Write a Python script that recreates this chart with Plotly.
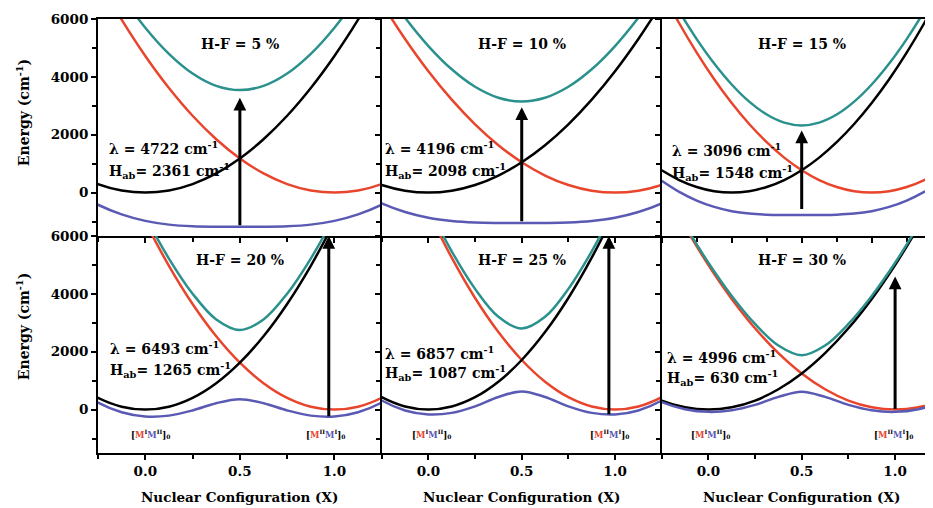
import plotly.graph_objects as go
from plotly.subplots import make_subplots

# ---------------- data ----------------
X = [-0.5, -0.375, -0.25, -0.125, 0.0, 0.125, 0.25, 0.375, 0.5, 0.625, 0.75,
     0.875, 1.0, 1.125, 1.25, 1.375, 1.5]

HF_LABELS = ["H-F = 5 %", "H-F = 10 %", "H-F = 15 %", "H-F = 20 %", "H-F = 25 %", "H-F = 30 %"]
LAMBDA = [4722, 4196, 3096, 6493, 6857, 4996]
HAB = [2361, 2098, 1548, 1265, 1087, 630]

# diabatic state A (black), diabatic state B (red), lower adiabatic (blue), upper adiabatic (teal)
B1 = [1181, 664, 295, 74, 0, 74, 295, 664, 1181, 1845, 2656, 3615, 4722, 5976, 7378, 8928, 10625]
R1 = [10625, 8928, 7378, 5976, 4722, 3615, 2656, 1845, 1181, 664, 295, 74, 0, 74, 295, 664, 1181]
L1 = [623, 37, -420, -754, -978, -1107, -1164, -1179, -1181, -1179, -1164, -1107, -978, -754, -420, 37, 623]
U1 = [11182, 9555, 8093, 6805, 5700, 4796, 4115, 3688, 3542, 3688, 4115, 4796, 5700, 6805, 8093, 9555, 11182]

B2 = [1049, 590, 262, 66, 0, 66, 262, 590, 1049, 1639, 2360, 3213, 4196, 5311, 6556, 7933, 9441]
R2 = [9441, 7933, 6556, 5311, 4196, 3213, 2360, 1639, 1049, 590, 262, 66, 0, 66, 262, 590, 1049]
L2 = [554, 33, -373, -670, -869, -983, -1034, -1048, -1049, -1048, -1034, -983, -869, -670, -373, 33, 554]
U2 = [9936, 8490, 7192, 6047, 5065, 4262, 3657, 3277, 3147, 3277, 3657, 4262, 5065, 6047, 7192, 8490, 9936]

B3 = [774, 435, 194, 48, 0, 48, 194, 435, 774, 1209, 1742, 2370, 3096, 3918, 4838, 5853, 6966]
R3 = [6966, 5853, 4838, 3918, 3096, 2370, 1742, 1209, 774, 435, 194, 48, 0, 48, 194, 435, 774]
L3 = [409, 24, -275, -495, -641, -726, -763, -773, -774, -773, -763, -726, -641, -495, -275, 24, 409]
U3 = [7331, 6265, 5306, 4461, 3737, 3144, 2698, 2418, 2322, 2418, 2698, 3144, 3737, 4461, 5306, 6265, 7331]

B4 = [1623, 913, 406, 101, 0, 101, 406, 913, 1623, 2536, 3652, 4971, 6493, 8218, 10145, 12276, 14609]
R4 = [14609, 12276, 10145, 8218, 6493, 4971, 3652, 2536, 1623, 913, 406, 101, 0, 101, 406, 913, 1623]
L4 = [1501, 774, 244, -91, -238, -208, -29, 222, 358, 222, -29, -208, -238, -91, 244, 774, 1501]
U4 = [14707, 12387, 10275, 8372, 6684, 5221, 4007, 3116, 2753, 3116, 4007, 5221, 6684, 8372, 10275, 12387, 14707]

B5 = [1714, 964, 429, 107, 0, 107, 429, 964, 1714, 2679, 3857, 5250, 6857, 8678, 10714, 12964, 15428]
R5 = [15428, 12964, 10714, 8678, 6857, 5250, 3857, 2679, 1714, 964, 429, 107, 0, 107, 429, 964, 1714]
L5 = [1629, 867, 315, -29, -168, -113, 113, 437, 627, 437, 113, -113, -168, -29, 315, 867, 1629]
U5 = [15514, 13062, 10828, 8814, 7025, 5470, 4173, 3206, 2801, 3206, 4173, 5470, 7025, 8814, 10828, 13062, 15514]

B6 = [1249, 703, 312, 78, 0, 78, 312, 703, 1249, 1952, 2810, 3825, 4996, 6323, 7806, 9446, 11241]
R6 = [11241, 9446, 7806, 6323, 4996, 3825, 2810, 1952, 1249, 703, 312, 78, 0, 78, 312, 703, 1249]
L6 = [1209, 657, 260, 15, -78, -25, 162, 440, 619, 440, 162, -25, -78, 15, 260, 657, 1209]
U6 = [11281, 9491, 7859, 6386, 5074, 3928, 2960, 2214, 1879, 2214, 2960, 3928, 5074, 6386, 7859, 9491, 11281]

# arrows: (x, tail energy, head energy)
ARROW_X = [0.5, 0.5, 0.5, 0.97, 0.967, 1.0]
ARROW_FROM = [-1180, -1040, -620, -280, -210, -30]
ARROW_TO = [3280, 2950, 2150, 6000, 6000, 4600]

# text positions
LAM_X = [-0.204, -0.243, -0.44, -0.198, -0.243, -0.232]
LAM_Y = [1525, 1525, 1456, 2114, 1941, 1802]
HAB_Y = [762, 760, 693, 1352, 1282, 1109]
HF_Y = [5130, 5130, 5130, 5165, 5165, 5165]
STATE_LEFT_X = [0.03, 0.014, 0.014]
STATE_RIGHT_X = [0.955, 0.97, 0.99]
STATE_Y = -830

X_RANGES = [[-0.25, 1.25], [-0.25, 1.25], [-0.5, 1.438],
            [-0.25, 1.25], [-0.25, 1.25], [-0.25, 1.203]]
Y_RANGE = [-1500, 6000]

BLACKS = [B1, B2, B3, B4, B5, B6]
REDS = [R1, R2, R3, R4, R5, R6]
LOWS = [L1, L2, L3, L4, L5, L6]
UPS = [U1, U2, U3, U4, U5, U6]

# ---------------- styling ----------------
C_BLACK = "#000000"
C_RED = "#e8452c"
C_BLUE = "#5a5ab4"
C_TEAL = "#2a918d"
FONT = "DejaVu Serif"
LW = 2.5

fig = make_subplots(rows=2, cols=3, horizontal_spacing=0, vertical_spacing=0)

for i in range(6):
    r, c = i // 3 + 1, i % 3 + 1
    for ys, col in [(REDS[i], C_RED), (BLACKS[i], C_BLACK), (LOWS[i], C_BLUE), (UPS[i], C_TEAL)]:
        fig.add_trace(go.Scatter(x=X, y=ys, mode="lines",
                                 line=dict(color=col, width=LW, shape="spline", smoothing=1.0),
                                 showlegend=False, hoverinfo="skip"), row=r, col=c)

x_domains = [[0, 0.3398], [0.3398, 0.6751], [0.6751, 1.0]]
y_domains = [[0.5, 1.0], [0.0, 0.5]]

tickfont = dict(family=FONT, size=13.5, color="black", weight="bold")

for i in range(6):
    r, c = i // 3, i % 3
    n = "" if i == 0 else str(i + 1)
    fig.layout["xaxis" + n].update(
        domain=x_domains[c], range=X_RANGES[i], showgrid=False, zeroline=False,
        showline=True, mirror=(r == 0), linecolor="black", linewidth=2,
        ticks="outside", ticklen=5, tickwidth=2, tickcolor="black",
        tick0=0, dtick=0.5, tickformat=".1f",
        minor=dict(ticks="outside", ticklen=4, tickwidth=2, tickcolor="black", dtick=0.25, tick0=0),
        showticklabels=(r == 1), tickfont=tickfont,
    )
    fig.layout["yaxis" + n].update(
        domain=y_domains[r], range=Y_RANGE, showgrid=False, zeroline=False,
        showline=True, mirror=False, linecolor="black", linewidth=2,
        ticks="outside", ticklen=5, tickwidth=2, tickcolor="black",
        tick0=0, dtick=2000,
        minor=dict(ticks="outside", ticklen=4, tickwidth=2, tickcolor="black", dtick=1000, tick0=0),
        showticklabels=(c == 0), tickfont=tickfont,
    )

annfont = dict(family=FONT, size=14, color="black", weight="bold")
anns = []
for i in range(6):
    xr = "x" if i == 0 else "x" + str(i + 1)
    yr = "y" if i == 0 else "y" + str(i + 1)
    anns.append(dict(x=0.5, y=HF_Y[i], xref=xr, yref=yr, text=HF_LABELS[i],
                     showarrow=False, font=annfont, xanchor="center", yanchor="middle"))
    anns.append(dict(x=LAM_X[i], y=LAM_Y[i], xref=xr, yref=yr,
                     text="λ = %d cm<sup>-1</sup>" % LAMBDA[i],
                     showarrow=False, font=annfont, xanchor="left", yanchor="middle"))
    anns.append(dict(x=LAM_X[i], y=HAB_Y[i], xref=xr, yref=yr,
                     text="H<sub>ab</sub>= %d cm<sup>-1</sup>" % HAB[i],
                     showarrow=False, font=annfont, xanchor="left", yanchor="middle"))
    anns.append(dict(x=ARROW_X[i], y=ARROW_TO[i], ax=ARROW_X[i], ay=ARROW_FROM[i],
                     xref=xr, yref=yr, axref=xr, ayref=yr, text="",
                     showarrow=True, arrowhead=2, arrowsize=0.85, arrowwidth=3,
                     arrowcolor="black", standoff=0, startstandoff=0))

small = dict(family=FONT, size=8.5, color="black", weight="bold")
left_lbl = ("[<span style='color:%s'>M</span><sup>I</sup>"
            "<span style='color:%s'>M</span><sup>II</sup>]<sub>0</sub>") % (C_RED, C_BLUE)
right_lbl = ("[<span style='color:%s'>M</span><sup>II</sup>"
             "<span style='color:%s'>M</span><sup>I</sup>]<sub>0</sub>") % (C_RED, C_BLUE)
for k in range(3):
    xr = "x" + str(k + 4)
    yr = "y" + str(k + 4)
    anns.append(dict(x=STATE_LEFT_X[k], y=STATE_Y, xref=xr, yref=yr, text=left_lbl,
                     showarrow=False, font=small))
    anns.append(dict(x=STATE_RIGHT_X[k], y=STATE_Y, xref=xr, yref=yr, text=right_lbl,
                     showarrow=False, font=small))
    anns.append(dict(x=0.5, y=-0.101, xref=xr, yref="paper",
                     text="Nuclear Configuration (X)", showarrow=False,
                     font=dict(family=FONT, size=13.5, color="black", weight="bold"),
                     xanchor="center", yanchor="middle"))

for yp in [0.783, 0.290]:
    anns.append(dict(x=-0.0898, y=yp, xref="paper", yref="paper",
                     text="Energy (cm<sup>-1</sup>)", textangle=-90, showarrow=False,
                     font=dict(family=FONT, size=14, color="black", weight="bold"),
                     xanchor="center", yanchor="middle"))

# the page body adds an 8 px offset, so the figure is 8 px smaller and shifted up/left
fig.update_layout(
    width=925, height=500,
    margin=dict(l=90, r=0, t=11, b=55),
    paper_bgcolor="white", plot_bgcolor="white",
    annotations=anns, showlegend=False,
)

fig.write_html("out.html")
